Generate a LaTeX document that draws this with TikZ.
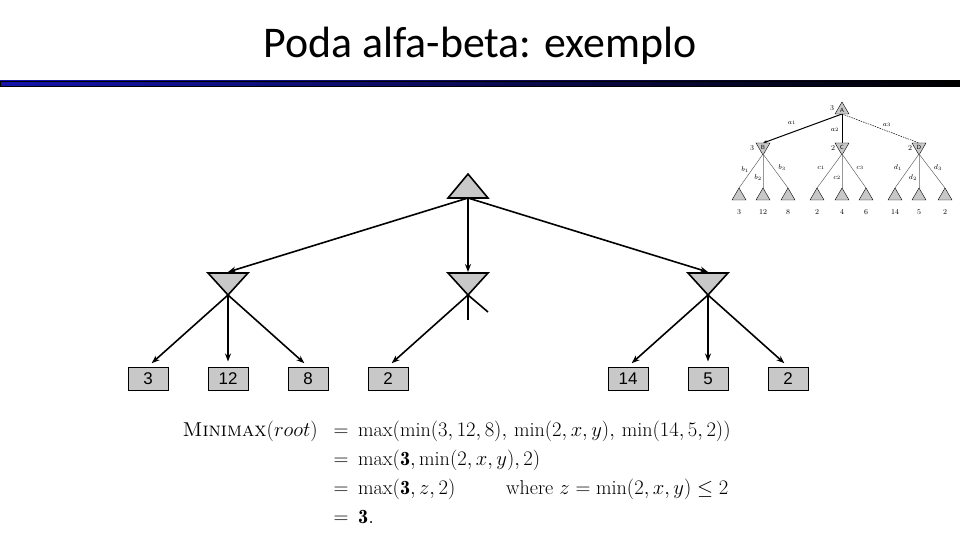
\documentclass[tikz,border=0pt]{standalone}
\usepackage{fontspec}
\newfontfamily\titlefont{Carlito}
\newfontfamily\arialfont{Liberation Sans}
\usetikzlibrary{arrows.meta}
\definecolor{nodegray}{RGB}{200,200,200}
\definecolor{barblue}{RGB}{20,20,170}
\begin{document}
\begin{tikzpicture}[x=1bp,y=-1bp,
  arr/.style={line width=1.6bp,-{Stealth[length=8bp,width=6bp]}},
  stub/.style={line width=1.6bp},
  tri/.style={draw,fill=nodegray,line width=1.6bp,line join=miter},
  leafbox/.style={draw,fill=nodegray,line width=1bp,minimum width=40bp,minimum height=23bp,inner sep=0pt,font=\arialfont\fontsize{17}{20}\selectfont},
  eq/.style={inner sep=0pt,font=\fontsize{20.2}{24}\selectfont},
  small/.style={inner sep=0pt,font=\fontsize{7.5}{8}\selectfont},
  itri/.style={draw,fill=nodegray,line width=0.4bp},
  iedge/.style={line width=0.4bp,draw=black!70}
]
\useasboundingbox (0,0) rectangle (960,540);
\fill[white] (0,0) rectangle (960,540);

% title and bar
\node[anchor=base,inner sep=0pt,font=\titlefont\fontsize{44}{48}\selectfont] (title) at (480,58) {Poda alfa-beta: exemplo};
\shade[left color=barblue,right color=black] (0,81) rectangle (960,86.5);
\draw[line width=0.5bp] (0,81) rectangle (960,86.5);

% main tree coordinates
\coordinate (rootb) at (468,198);
\coordinate (Btop) at (228,272);
\coordinate (Ctop) at (468,272);
\coordinate (Dtop) at (708,272);
\coordinate (Bap) at (228,295);
\coordinate (Cap) at (468,295);
\coordinate (Dap) at (708,295);
\coordinate (Cs1) at (468,320);
\coordinate (Cs2) at (488,312);

% triangles
\draw[tri] (448,198) -- (468,174) -- (488,198) -- cycle;
\draw[tri] (208,273) -- (248,273) -- (228,295) -- cycle;
\draw[tri] (448,273) -- (488,273) -- (468,295) -- cycle;
\draw[tri] (688,273) -- (728,273) -- (708,295) -- cycle;

% leaves
\node[leafbox] (l1) at (148,378.5) {3};
\node[leafbox] (l2) at (228,378.5) {12};
\node[leafbox] (l3) at (308,378.5) {8};
\node[leafbox] (l4) at (388,378.5) {2};
\node[leafbox] (l7) at (628,378.5) {14};
\node[leafbox] (l8) at (708,378.5) {5};
\node[leafbox] (l9) at (788,378.5) {2};

% connectors
\draw[arr] (rootb) -- (Btop);
\draw[arr] (rootb) -- (Ctop);
\draw[arr] (rootb) -- (Dtop);
\draw[arr,shorten >=5bp] (Bap) -- (l1.north);
\draw[arr,shorten >=5bp] (Bap) -- (l2.north);
\draw[arr,shorten >=5bp] (Bap) -- (l3.north);
\draw[arr,shorten >=5bp] (Cap) -- (l4.north);
\draw[stub] (Cap) -- (Cs1);
\draw[stub] (Cap) -- (Cs2);
\draw[arr,shorten >=5bp] (Dap) -- (l7.north);
\draw[arr,shorten >=5bp] (Dap) -- (l8.north);
\draw[arr,shorten >=5bp] (Dap) -- (l9.north);

% equation
\node[eq,anchor=base east] (e1l) at (318,436) {$\textsc{Minimax}(root)$};
\node[eq,anchor=base] (e1m) at (341,436) {$=$};
\node[eq,anchor=base west] (e1r) at (358,436) {$\max(\min(3,12,8),\,\min(2,x,y),\,\min(14,5,2))$};
\node[eq,anchor=base] (e2m) at (341,465) {$=$};
\node[eq,anchor=base west] (e2r) at (358,465) {$\max(\mathbf{3},\min(2,x,y),2)$};
\node[eq,anchor=base] (e3m) at (341,494) {$=$};
\node[eq,anchor=base west] (e3r) at (358,494) {$\max(\mathbf{3},z,2)$};
\node[eq,anchor=base west] (e3w) at (506,494) {where $z=\min(2,x,y)\le 2$};
\node[eq,anchor=base] (e4m) at (341,523) {$=$};
\node[eq,anchor=base west] (e4r) at (358,523) {$\mathbf{3}.$};

% inset tree
\coordinate (iA) at (842,114);
\coordinate (iBt) at (763,143);
\coordinate (iCt) at (842,143);
\coordinate (iDt) at (919,143);
\coordinate (iBa) at (763,154);
\coordinate (iCa) at (842,154);
\coordinate (iDa) at (919,154);
\draw[line width=1bp,-{Stealth[length=4bp,width=3bp]}] (iA) -- (iBt);
\draw[line width=1bp] (iA) -- (iCt);
\draw[line width=0.5bp,dashed,dash pattern=on 1.5bp off 1bp] (iA) -- (iDt);
\draw[itri] (835,114) -- (842,102) -- (849,114) -- cycle;
\draw[itri] (756,143) -- (770,143) -- (763,155) -- cycle;
\draw[itri] (835,143) -- (849,143) -- (842,155) -- cycle;
\draw[itri] (912,143) -- (926,143) -- (919,155) -- cycle;
\node[small,font=\sffamily\fontsize{6}{7}\selectfont] (iAl) at (842,110) {A};
\node[small,font=\sffamily\fontsize{6}{7}\selectfont] (iBl) at (763,147) {B};
\node[small,font=\sffamily\fontsize{6}{7}\selectfont] (iCl) at (842,147) {C};
\node[small,font=\sffamily\fontsize{6}{7}\selectfont] (iDl) at (919,147) {D};
\node[small] (iAv) at (832,108) {3};
\node[small] (iBv) at (752,148) {3};
\node[small] (iCv) at (833,148) {2};
\node[small] (iDv) at (910,148) {2};
\node[small] (ia1) at (792,123) {$a_1$};
\node[small] (ia2) at (835,130) {$a_2$};
\node[small] (ia3) at (887,125) {$a_3$};
\foreach \n/\x/\v in {1/739/3,2/763/12,3/788/8,4/817/2,5/842/4,6/866/6,7/895/14,8/919/5,9/945/2}{
  \coordinate (it\n) at (\x,188);
  \node[small] (iv\n) at (\x,212) {\v};
}
\foreach \p/\a/\b/\c in {iBa/1/2/3,iCa/4/5/6,iDa/7/8/9}{
  \draw[iedge] (\p) -- (it\a);
  \draw[iedge,draw=black!40] (\p) -- (it\b);
  \draw[iedge] (\p) -- (it\c);
}
\foreach \x in {739,763,788,817,842,866,895,919,945}{
  \draw[itri] (\x-7,200) -- (\x,188) -- (\x+7,200) -- cycle;
}
\node[small] (ib1) at (745,170) {$b_1$};
\node[small] (ib2) at (758,178) {$b_2$};
\node[small] (ib3) at (782,168) {$b_3$};
\node[small] (ic1) at (821,168) {$c_1$};
\node[small] (ic2) at (837,178) {$c_2$};
\node[small] (ic3) at (860,168) {$c_3$};
\node[small] (id1) at (898,168) {$d_1$};
\node[small] (id2) at (913,178) {$d_2$};
\node[small] (id3) at (938,168) {$d_3$};
\end{tikzpicture}
\end{document}
